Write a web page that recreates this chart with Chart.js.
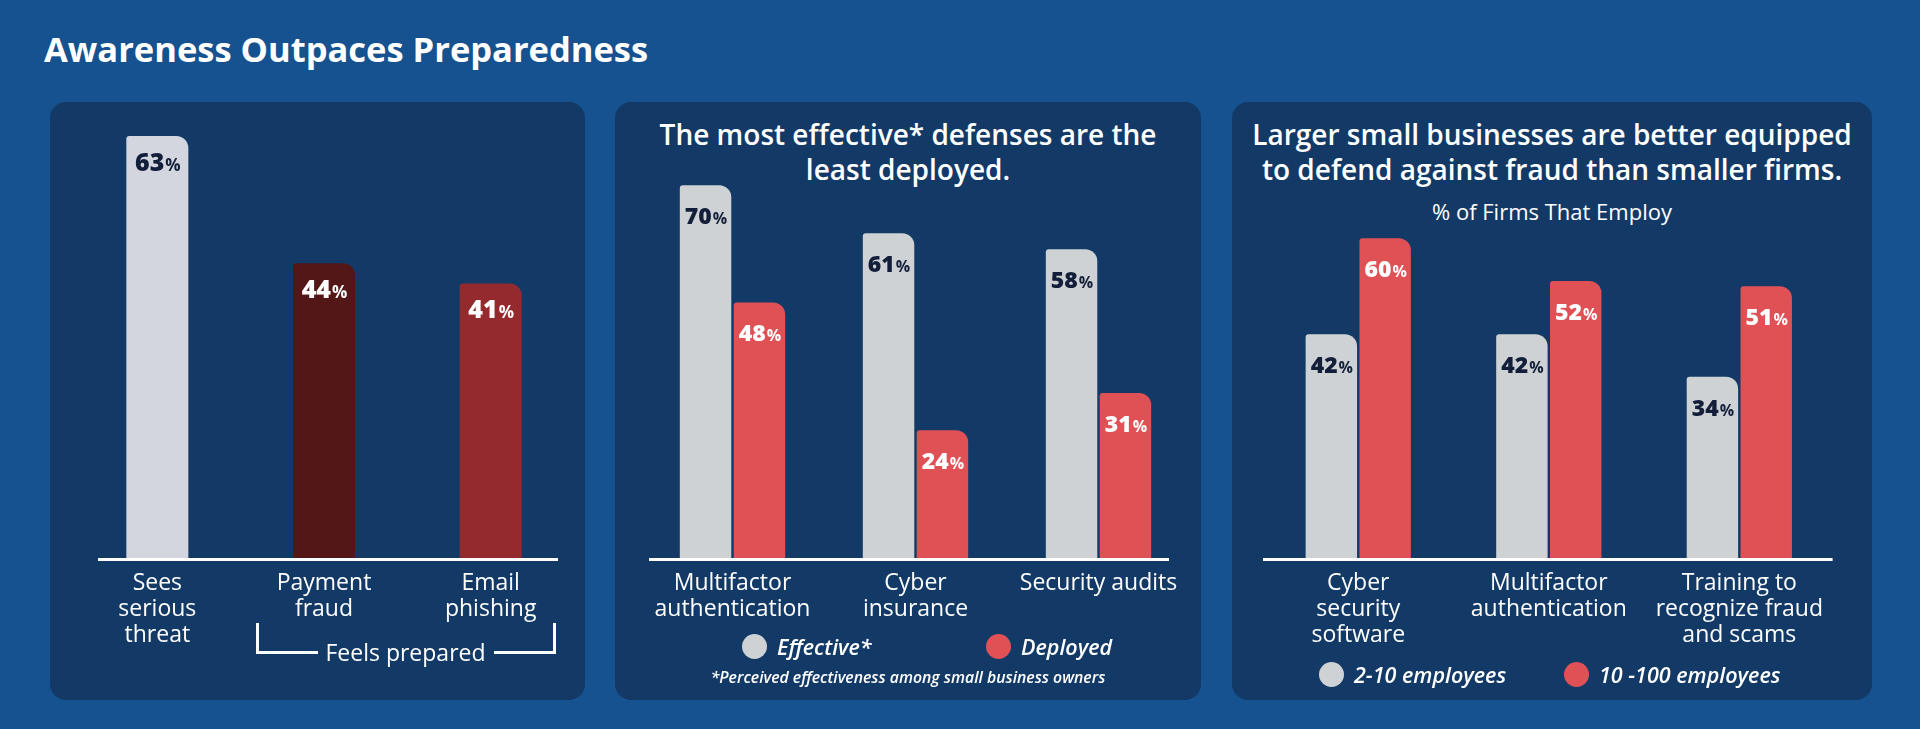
<!DOCTYPE html>
<html>
<head>
<meta charset="utf-8">
<title>Awareness Outpaces Preparedness</title>
<script src="https://cdn.jsdelivr.net/npm/chart.js@4.4.0/dist/chart.umd.min.js"></script>
<style>
  body { margin: 0; width: 1920px; height: 729px; background: #15528f; font-family: "Open Sans", sans-serif; overflow: hidden; position: relative; color: #fff; }
  h1 { position: absolute; left: 44px; top: 28px; margin: 0; font-size: 34.5px; line-height: 42px; font-weight: 700; }
  .panel { position: absolute; top: 102px; height: 598px; background: #133a67; border-radius: 16px; }
  canvas { position: absolute; }
  .ptitle { position: absolute; top: 117px; font-size: 28px; line-height: 35px; font-weight: 600; text-align: center; }
  .psub { position: absolute; top: 198px; font-size: 22px; line-height: 26px; text-align: center; }
  .legend { position: absolute; display: flex; align-items: center; font-size: 21.5px; font-style: italic; font-weight: 600; line-height: 24px; }
  .legend .dot { width: 25px; height: 25px; border-radius: 50%; margin-right: 10px; }
  .note { position: absolute; font-size: 15.8px; font-style: italic; font-weight: 600; line-height: 20px; text-align: center; }
  .bracket { position: absolute; top: 623px; height: 28px; width: 59px; border-bottom: 3px solid #fff; }
  .bracket.l { left: 256px; border-left: 3px solid #fff; }
  .bracket.r { left: 494px; border-right: 3px solid #fff; }
  .feels { position: absolute; left: 317px; width: 177px; top: 637px; font-size: 23px; line-height: 30px; text-align: center; }
</style>
</head>
<body>
<h1>Awareness Outpaces Preparedness</h1>

<div class="panel" style="left:50px;width:535px"></div>
<div class="panel" style="left:615px;width:586px"></div>
<div class="panel" style="left:1232px;width:640px"></div>

<canvas id="threatChart" width="500" height="582" style="left:74px;top:116px"></canvas>
<div class="bracket l"></div>
<div class="bracket r"></div>
<div class="feels">Feels prepared</div>

<div class="ptitle" style="left:615px;width:586px">The most effective* defenses are the<br>least deployed.</div>
<canvas id="defenseChart" width="549" height="518" style="left:641px;top:180px"></canvas>
<div class="legend" style="left:742px;top:634px">
  <span class="dot" style="background:#cfd2d4"></span><span>Effective*</span>
</div>
<div class="legend" style="left:986px;top:634px">
  <span class="dot" style="background:#e05155"></span><span>Deployed</span>
</div>
<div class="note" style="left:615px;width:586px;top:667px">*Perceived effectiveness among small business owners</div>

<div class="ptitle" style="left:1232px;width:640px">Larger small businesses are better equipped<br>to defend against fraud than smaller firms.</div>
<div class="psub" style="left:1232px;width:640px">% of Firms That Employ</div>
<canvas id="sizeChart" width="572" height="465" style="left:1263px;top:233px"></canvas>
<div class="legend" style="left:1319px;top:662px">
  <span class="dot" style="background:#cfd2d4"></span><span>2-10 employees</span>
</div>
<div class="legend" style="left:1564px;top:662px">
  <span class="dot" style="background:#e05155"></span><span>10 -100 employees</span>
</div>

<script>
// panel 1
const threatLabels = [['Sees', 'serious', 'threat'], ['Payment', 'fraud'], ['Email', 'phishing']];
const threatValues = [63, 44, 41];

// panel 2
const defenseLabels = [['Multifactor', 'authentication'], ['Cyber', 'insurance'], 'Security audits'];
const effectiveValues = [70, 61, 58];
const deployedValues = [48, 24, 31];

// panel 3
const toolLabels = [['Cyber', 'security', 'software'], ['Multifactor', 'authentication'], ['Training to', 'recognize fraud', 'and scams']];
const smallFirmValues = [42, 42, 34];
const largerFirmValues = [60, 52, 51];

const GREY = '#cfd2d4';
const RED = '#e05155';
const NAVY_TEXT = '#131f3a';

// white line under the bars, a bit shorter than the chart area
const baseline = {
  id: 'baseline',
  afterDatasetsDraw(chart, args, opts) {
    const ctx = chart.ctx;
    const area = chart.chartArea;
    const y = chart.scales.y.getPixelForValue(0) + 1.5;
    ctx.save();
    ctx.strokeStyle = '#fff';
    ctx.lineWidth = 3;
    ctx.beginPath();
    ctx.moveTo(area.left + opts.left, y);
    ctx.lineTo(area.right - opts.right, y);
    ctx.stroke();
    ctx.restore();
  }
};

// "63%" style labels inside the top of each bar
const valueLabels = {
  id: 'valueLabels',
  afterDatasetsDraw(chart, args, opts) {
    const ctx = chart.ctx;
    const big = '800 ' + opts.size + 'px "Open Sans"';
    const small = '700 ' + Math.round(opts.size * 0.68) + 'px "Open Sans"';
    chart.data.datasets.forEach((ds, i) => {
      chart.getDatasetMeta(i).data.forEach((bar, j) => {
        const num = String(ds.data[j]);
        ctx.save();
        ctx.textBaseline = 'alphabetic';
        ctx.textAlign = 'left';
        ctx.fillStyle = Array.isArray(ds.labelColor) ? ds.labelColor[j] : ds.labelColor;
        ctx.font = big;
        const w1 = ctx.measureText(num).width;
        ctx.font = small;
        const w2 = ctx.measureText('%').width;
        const x0 = bar.x - (w1 + w2) / 2;
        const y = bar.y + opts.offset;
        ctx.font = big;
        ctx.fillText(num, x0, y);
        ctx.font = small;
        ctx.fillText('%', x0 + w1 + 1, y);
        ctx.restore();
      });
    });
  }
};

function makeChart(id, labels, datasets, o) {
  return new Chart(document.getElementById(id), {
    type: 'bar',
    data: { labels: labels, datasets: datasets },
    options: {
      responsive: false,
      animation: false,
      layout: { padding: 0 },
      categoryPercentage: o.catPct,
      barPercentage: o.barPct,
      plugins: {
        legend: { display: false },
        tooltip: { enabled: false },
        baseline: { left: o.lineLeft, right: o.lineRight },
        valueLabels: { size: o.labelSize, offset: o.labelOffset }
      },
      scales: {
        x: {
          grid: { display: false, drawTicks: false },
          border: { display: false },
          ticks: {
            color: '#fff',
            font: { family: 'Open Sans', size: 23, weight: '500', lineHeight: 1.13 },
            padding: 12,
            maxRotation: 0,
            autoSkip: false
          },
          afterFit: function(scale) { scale.height = 140; }
        },
        y: { display: false, min: 0, max: o.max }
      }
    },
    plugins: [baseline, valueLabels]
  });
}

const roundTop = { topLeft: 3, topRight: 12, bottomLeft: 0, bottomRight: 0 };

makeChart('threatChart', threatLabels, [{
  data: threatValues,
  backgroundColor: ['#d3d5df', '#541718', '#942a2e'],
  labelColor: [NAVY_TEXT, '#fff', '#fff'],
  borderRadius: roundTop
}], { max: 66, catPct: 0.372, barPct: 1, lineLeft: 24, lineRight: 16, labelSize: 25, labelOffset: 35 });

makeChart('defenseChart', defenseLabels, [
  { label: 'Effective*', data: effectiveValues, backgroundColor: GREY, labelColor: NAVY_TEXT, borderRadius: roundTop },
  { label: 'Deployed', data: deployedValues, backgroundColor: RED, labelColor: '#fff', borderRadius: roundTop }
], { max: 71, catPct: 0.589, barPct: 0.955, lineLeft: 8, lineRight: 21, labelSize: 23, labelOffset: 39 });

makeChart('sizeChart', toolLabels, [
  { label: '2-10 employees', data: smallFirmValues, backgroundColor: GREY, labelColor: NAVY_TEXT, borderRadius: roundTop },
  { label: '10 -100 employees', data: largerFirmValues, backgroundColor: RED, labelColor: '#fff', borderRadius: roundTop }
], { max: 61, catPct: 0.565, barPct: 0.955, lineLeft: 0, lineRight: 2, labelSize: 23, labelOffset: 39 });
</script>
</body>
</html>
